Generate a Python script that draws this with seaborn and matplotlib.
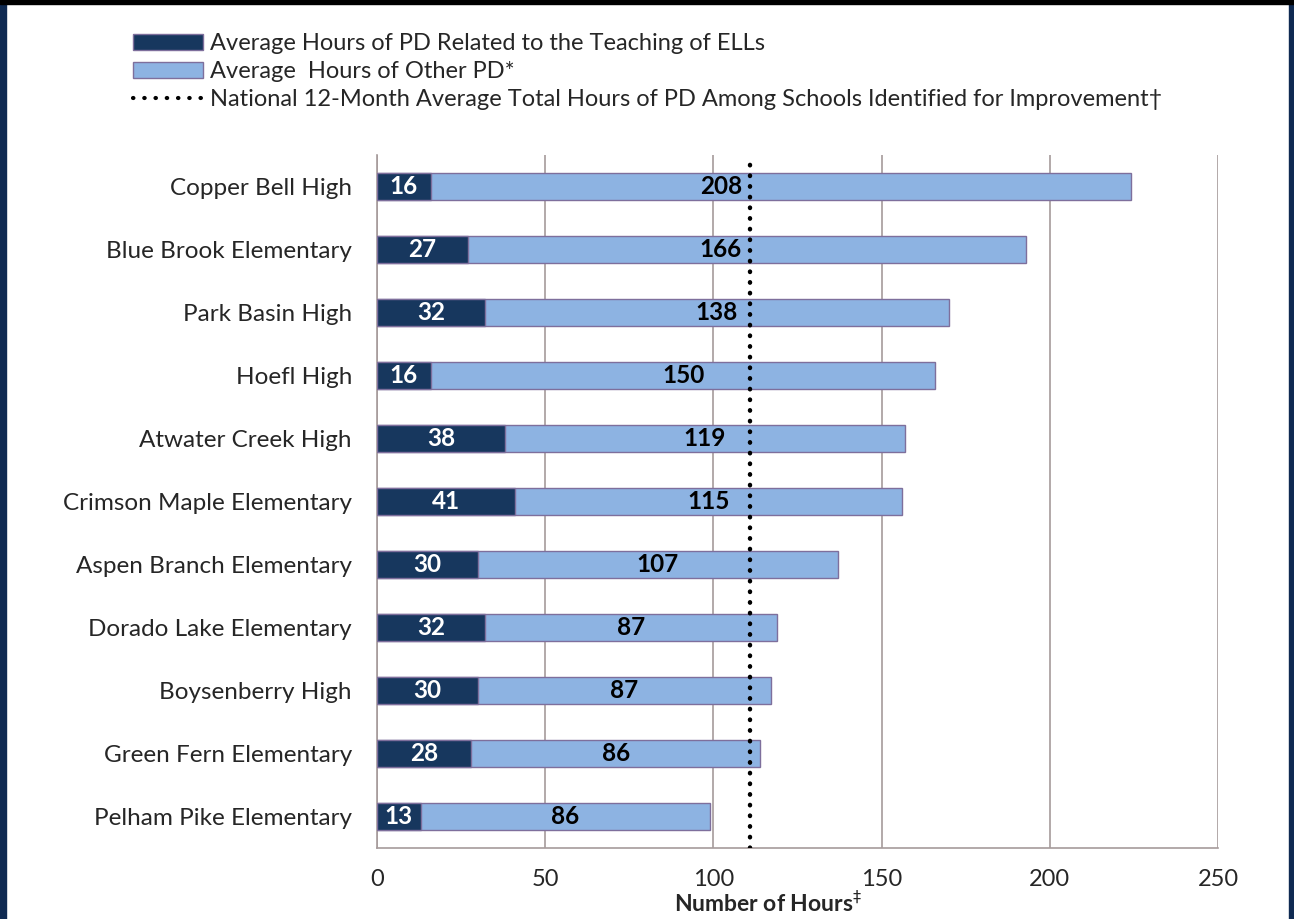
import numpy as np
import pandas as pd
import matplotlib
matplotlib.use("Agg")
import matplotlib.pyplot as plt
import seaborn as sns
from matplotlib.patches import Patch, Rectangle
from matplotlib.lines import Line2D

# =============================
# DATA
# =============================
schools = [
    "Copper Bell High", "Blue Brook Elementary", "Park Basin High", "Hoefl High",
    "Atwater Creek High", "Crimson Maple Elementary", "Aspen Branch Elementary",
    "Dorado Lake Elementary", "Boysenberry High", "Green Fern Elementary",
    "Pelham Pike Elementary",
]
ell_hours = [16, 27, 32, 16, 38, 41, 30, 32, 30, 28, 13]
other_hours = [208, 166, 138, 150, 119, 115, 107, 87, 87, 86, 86]
national_avg = 111
x_ticks = [0, 50, 100, 150, 200, 250]

legend_labels = [
    "Average Hours of PD Related to the Teaching of ELLs",
    "Average  Hours of Other PD*",
    "National 12-Month Average Total Hours of PD Among Schools Identified for Improvement\u2020",
]

DARK = "#17375e"
LIGHT = "#8db3e2"
EDGE = "#7e6f9c"
GRID = "#a69b9b"

df = pd.DataFrame({"school": schools, "ell": ell_hours, "other": other_hours})
df["total"] = df["ell"] + df["other"]

# =============================
# PLOT
# =============================
sns.set_style("white")
plt.rcParams["font.family"] = ["Lato", "DejaVu Sans"]

fig = plt.figure(figsize=(12.94, 9.19), dpi=100)
ax = fig.add_axes([0.2913, 0.0773, 0.65, 0.754])

sns.barplot(data=df, x="total", y="school", color=LIGHT, width=0.42,
            edgecolor=EDGE, linewidth=1, saturation=1, ax=ax, zorder=2)
sns.barplot(data=df, x="ell", y="school", color=DARK, width=0.42,
            edgecolor=EDGE, linewidth=1, saturation=1, ax=ax, zorder=3)

ax.axvline(national_avg, color="black", linestyle=(0, (0.1, 2.3)),
           linewidth=3.2, dash_capstyle="round", zorder=5)

# value labels
for i, (e, o) in enumerate(zip(ell_hours, other_hours)):
    ax.text(e / 2, i, str(e), ha="center", va="center", color="white",
            fontsize=17.5, fontweight="bold", zorder=6)
    c = e + o / 2
    if c > national_avg - 8:
        ax.text(national_avg - 2.5, i, str(o), ha="right", va="center",
                color="black", fontsize=17.5, fontweight="bold", zorder=6)
    else:
        ax.text(c, i, str(o), ha="center", va="center", color="black",
                fontsize=17.5, fontweight="bold", zorder=6)

ax.set_xlim(0, 250)
ax.set_ylim(len(schools) - 0.5, -0.5)
ax.set_xticks(x_ticks)
ax.set_xticklabels([str(t) for t in x_ticks], fontsize=17)
ax.xaxis.grid(True, color=GRID, linewidth=1.2, zorder=0)
ax.set_axisbelow(True)
ax.tick_params(axis="x", length=9, color=GRID, width=1.2, pad=6)

ax.set_yticks(range(len(schools)))
ax.set_yticklabels(schools, fontsize=17.5)
ax.tick_params(axis="y", which="major", length=0, pad=18)
ax.set_yticks(np.arange(-0.5, len(schools), 1), minor=True)
ax.tick_params(axis="y", which="minor", length=9, color=GRID, width=1.2)

for side in ["top", "right"]:
    ax.spines[side].set_visible(False)
for side in ["left", "bottom"]:
    ax.spines[side].set_color(GRID)
    ax.spines[side].set_linewidth(1.2)

ax.set_ylabel("")
ax.set_xlabel("Number of Hours$^{\\ddagger}$", fontsize=16.5, fontweight="bold")
ax.xaxis.set_label_coords(0.465, -0.062)

# legend
handles = [
    Patch(facecolor=DARK, edgecolor=EDGE),
    Patch(facecolor=LIGHT, edgecolor=EDGE),
    Line2D([0], [0], color="black", linestyle=(0, (0.1, 2.6)), linewidth=3,
           dash_capstyle="round"),
]
fig.legend(handles, legend_labels, loc="upper left", bbox_to_anchor=(0.086, 0.987),
           frameon=False, fontsize=17, handlelength=3.0, handleheight=0.65,
           handletextpad=0.3, labelspacing=0.3)

# frame border
fig.add_artist(Rectangle((0, 0), 0.005, 1, transform=fig.transFigure,
                         color="#0f2a52", zorder=10))
fig.add_artist(Rectangle((0.9965, 0), 0.0035, 1, transform=fig.transFigure,
                         color="#0f2a52", zorder=10))
fig.add_artist(Rectangle((0, 0.9955), 1, 0.0045, transform=fig.transFigure,
                         color="black", zorder=10))

fig.savefig("out.png", dpi=100)
